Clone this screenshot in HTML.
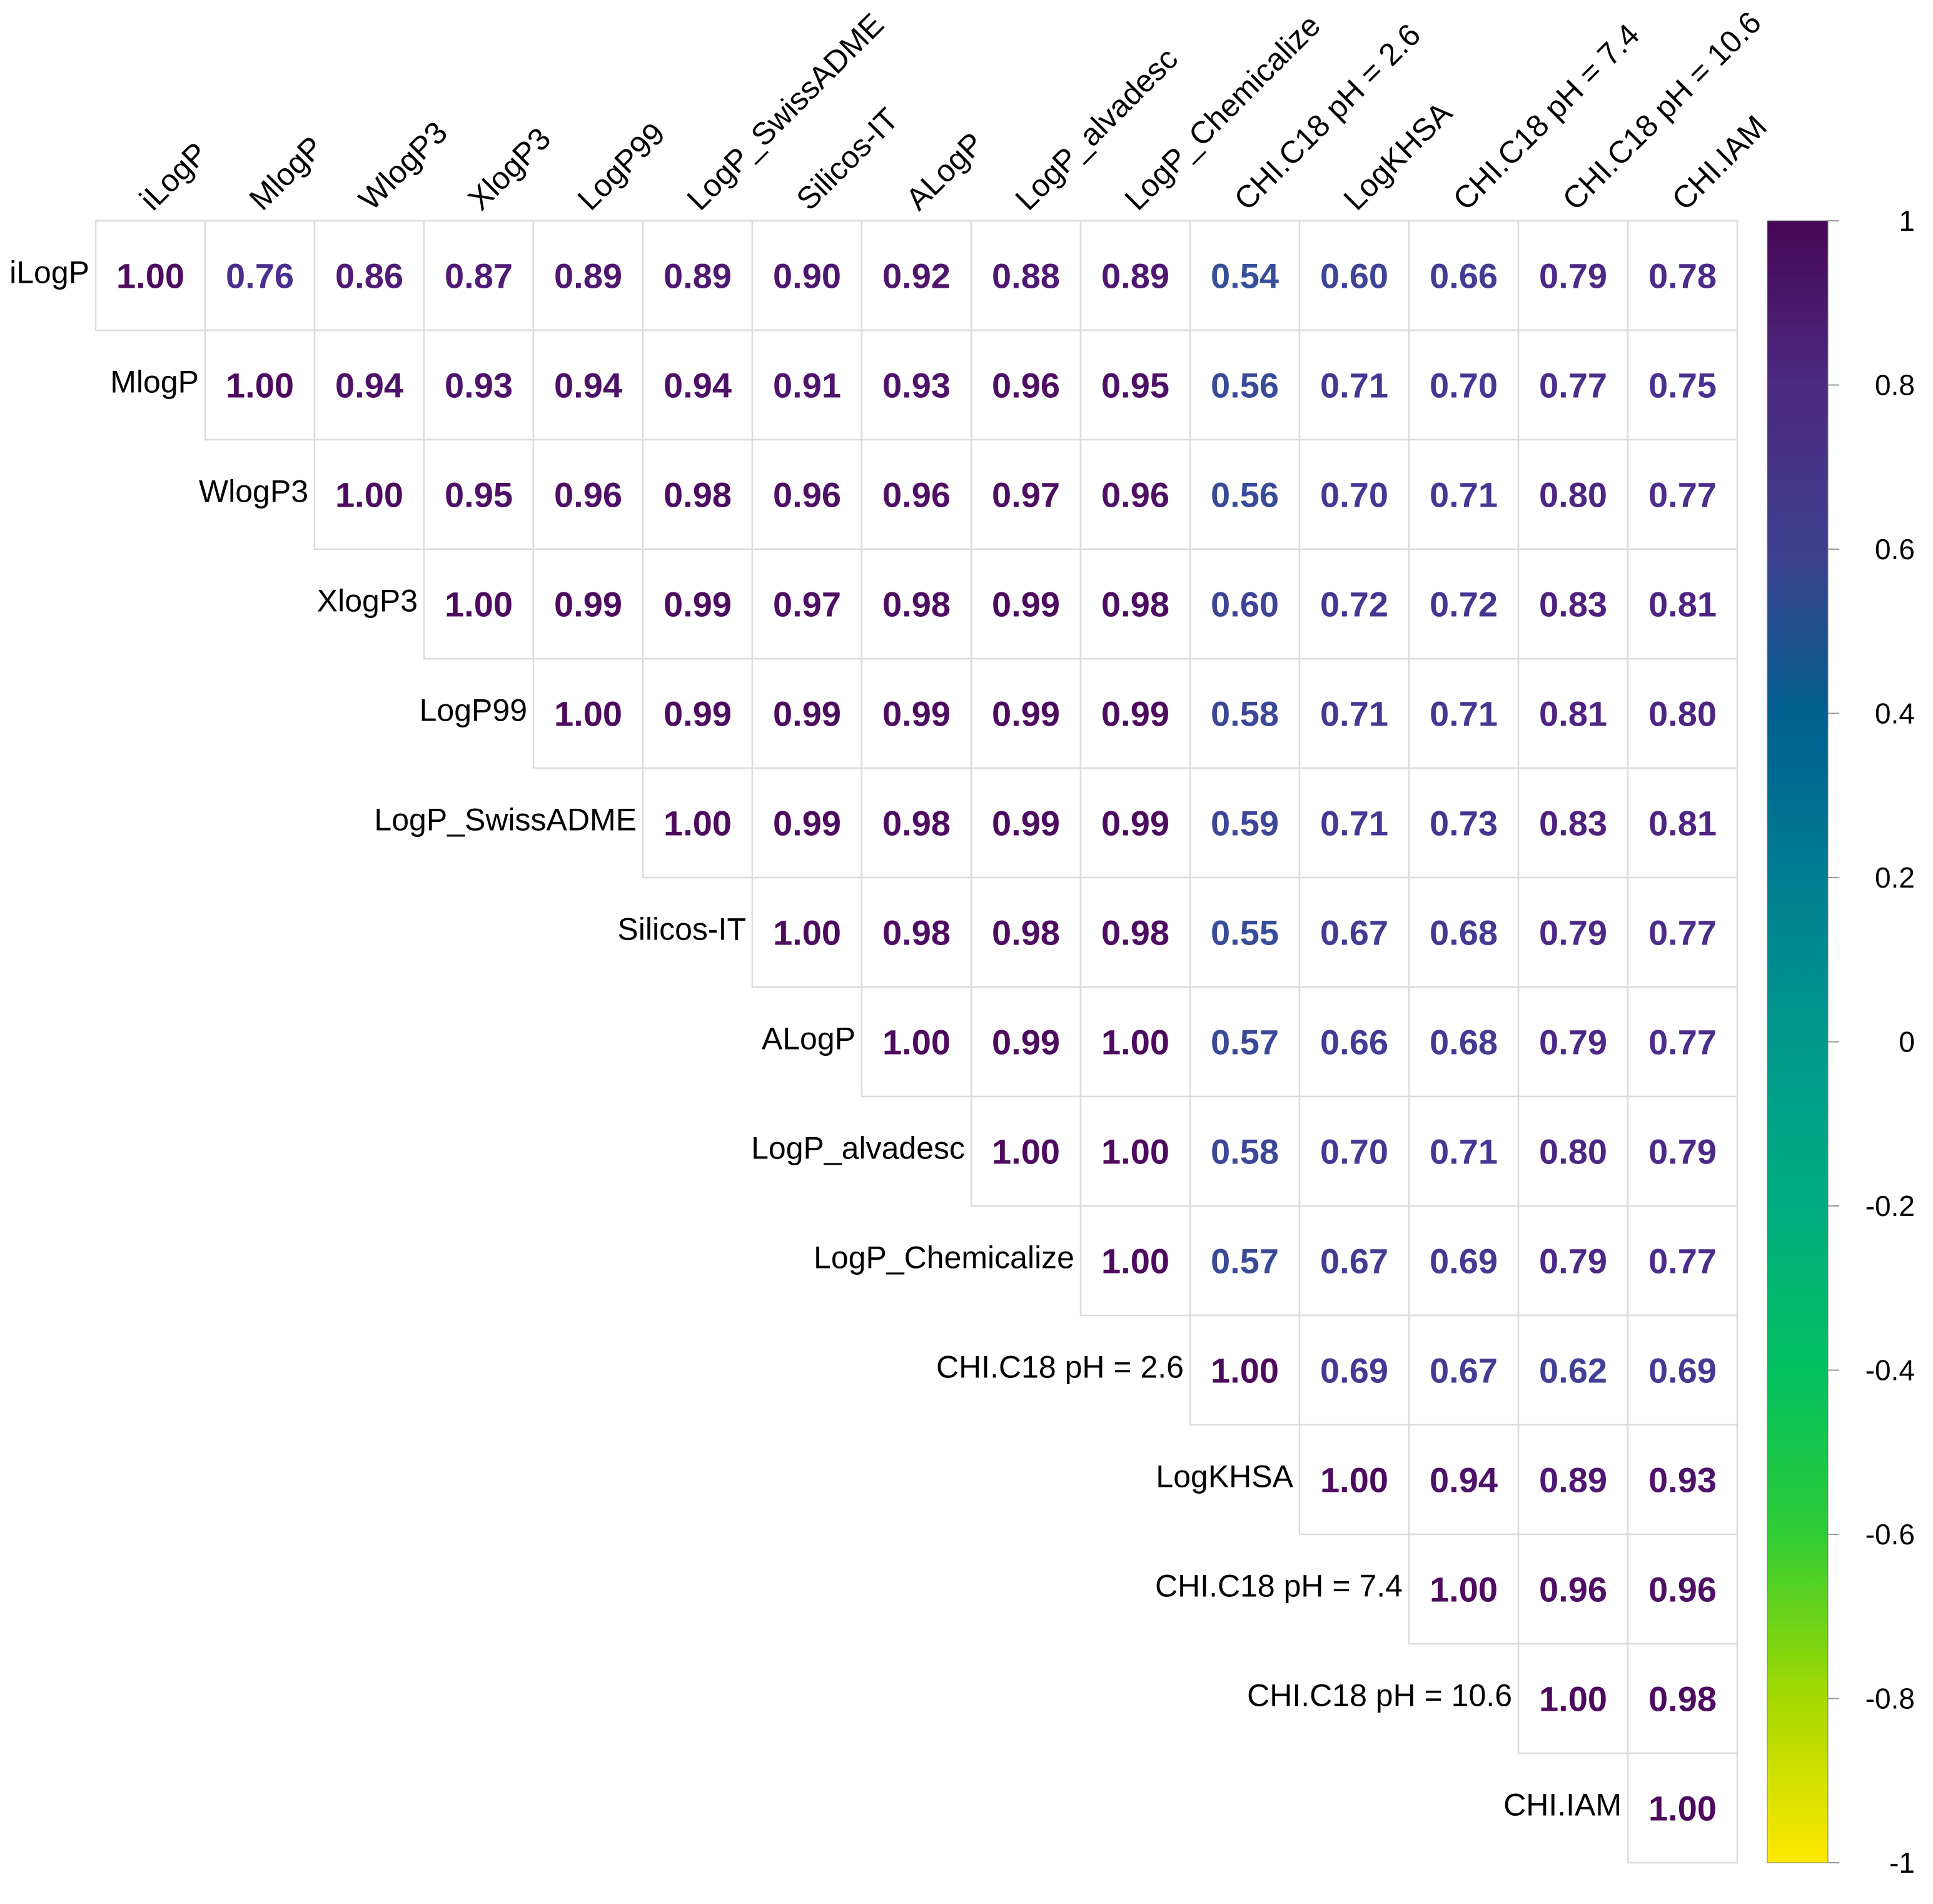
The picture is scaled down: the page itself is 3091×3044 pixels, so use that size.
<!DOCTYPE html>
<html><head><meta charset="utf-8"><style>
html,body{margin:0;padding:0;background:#fff;}
svg{display:block;font-family:"Liberation Sans",Arial,sans-serif;}
</style></head><body>
<svg id="chart" width="3091" height="3044" viewBox="0 0 3091 3044" xmlns="http://www.w3.org/2000/svg">
<defs>
<linearGradient id="cbgrad" x1="0" y1="0" x2="0" y2="1">
<stop offset="0" stop-color="#470757"/>
<stop offset="0.1" stop-color="#4b2a80"/>
<stop offset="0.2" stop-color="#3f3e8e"/>
<stop offset="0.3" stop-color="#005f8f"/>
<stop offset="0.4" stop-color="#007d92"/>
<stop offset="0.5" stop-color="#00998c"/>
<stop offset="0.6" stop-color="#00ad80"/>
<stop offset="0.7" stop-color="#00c060"/>
<stop offset="0.8" stop-color="#30cc35"/>
<stop offset="0.9" stop-color="#a5d900"/>
<stop offset="1" stop-color="#ffe800"/>
</linearGradient>
</defs>
<g id="grid"></g>
<g id="cells"></g>
<g id="collabels"></g>
<g id="rowlabels"></g>
<g id="colorbar">
<rect x="2826" y="353" width="97" height="2625" fill="url(#cbgrad)" stroke="#777" stroke-width="1"/>
</g>
</svg>
<script>
const labels = ["iLogP","MlogP","WlogP3","XlogP3","LogP99","LogP_SwissADME","Silicos-IT","ALogP","LogP_alvadesc","LogP_Chemicalize","CHI.C18 pH = 2.6","LogKHSA","CHI.C18 pH = 7.4","CHI.C18 pH = 10.6","CHI.IAM"];
const row0 = [1.00,0.76,0.86,0.87,0.89,0.89,0.90,0.92,0.88,0.89,0.54,0.60,0.66,0.79,0.78];
const row1 = [1.00,0.94,0.93,0.94,0.94,0.91,0.93,0.96,0.95,0.56,0.71,0.70,0.77,0.75];
const row2 = [1.00,0.95,0.96,0.98,0.96,0.96,0.97,0.96,0.56,0.70,0.71,0.80,0.77];
const row3 = [1.00,0.99,0.99,0.97,0.98,0.99,0.98,0.60,0.72,0.72,0.83,0.81];
const row4 = [1.00,0.99,0.99,0.99,0.99,0.99,0.58,0.71,0.71,0.81,0.80];
const row5 = [1.00,0.99,0.98,0.99,0.99,0.59,0.71,0.73,0.83,0.81];
const row6 = [1.00,0.98,0.98,0.98,0.55,0.67,0.68,0.79,0.77];
const row7 = [1.00,0.99,1.00,0.57,0.66,0.68,0.79,0.77];
const row8 = [1.00,1.00,0.58,0.70,0.71,0.80,0.79];
const row9 = [1.00,0.57,0.67,0.69,0.79,0.77];
const row10 = [1.00,0.69,0.67,0.62,0.69];
const row11 = [1.00,0.94,0.89,0.93];
const row12 = [1.00,0.96,0.96];
const row13 = [1.00,0.98];
const row14 = [1.00];
const cbTicks = [1,0.8,0.6,0.4,0.2,0,-0.2,-0.4,-0.6,-0.8,-1];
const cbTickLabels = ["1","0.8","0.6","0.4","0.2","0","-0.2","-0.4","-0.6","-0.8","-1"];

const rows=[row0,row1,row2,row3,row4,row5,row6,row7,row8,row9,row10,row11,row12,row13,row14];
const NS="http://www.w3.org/2000/svg";
const X0=153,Y0=353,C=175,N=labels.length;
const xs=j=>X0+j*C, ys=i=>Y0+i*C;
const cbTop=353,cbBot=2978;
const cbY=v=>cbTop+(1-v)/2*(cbBot-cbTop);
function mk(t,a,p){const e=document.createElementNS(NS,t);for(const k in a)e.setAttribute(k,a[k]);p.appendChild(e);return e;}
function col(v){
  const stops=[[1.0,[77,10,94]],[0.85,[80,28,120]],[0.75,[74,49,144]],[0.6,[62,68,150]],[0.5,[50,85,155]]];
  for(let k=0;k<stops.length-1;k++){const [a,ca]=stops[k],[b,cb]=stops[k+1];
    if(v<=a&&v>=b){const t=(a-v)/(a-b);return `rgb(${ca.map((c,i)=>Math.round(c+(cb[i]-c)*t)).join(',')})`;}}
  return v>1?'rgb(77,10,94)':'rgb(50,85,155)';
}
const g=document.getElementById('grid'),cg=document.getElementById('cells'),clg=document.getElementById('collabels'),rlg=document.getElementById('rowlabels'),cbg=document.getElementById('colorbar');
for(let i=0;i<N;i++){
  const r=rows[i];
  for(let k=0;k<r.length;k++){
    const j=i+k;
    const rc=mk('rect',{x:xs(j),y:ys(i),width:C,height:C,fill:'#fff',stroke:'#dcdcdc','stroke-width':2.5},g);
    
    
    const t=mk('text',{x:xs(j)+C/2,y:ys(i)+C/2+20,'text-anchor':'middle','font-size':56,'font-weight':'bold',fill:col(r[k])},cg);
    t.textContent=r[k].toFixed(2);
    
    
  }
  const rl=mk('text',{x:xs(i)-10,y:ys(i)+C/2+12,'text-anchor':'end','font-size':50,fill:'#000'},rlg);
  rl.textContent=labels[i];
  
  
  const cx=xs(i)+C/2+4, cy=Y0-14;
  const cl=mk('text',{x:cx,y:cy,'text-anchor':'start','font-size':50,fill:'#000',transform:`rotate(-45 ${cx} ${cy})`},clg);
  cl.textContent=labels[i];
  
  
}
cbTicks.forEach((v,k)=>{
  const y=cbY(v);
  const l=mk('line',{x1:2923,x2:2941,y1:y,y2:y,stroke:'#999','stroke-width':2},cbg);
  
  
  const t=mk('text',{x:3062,y:y+16,'text-anchor':'end','font-size':46,fill:'#000'},cbg);
  t.textContent=cbTickLabels[k];
  
  
});
</script>
</body></html>
